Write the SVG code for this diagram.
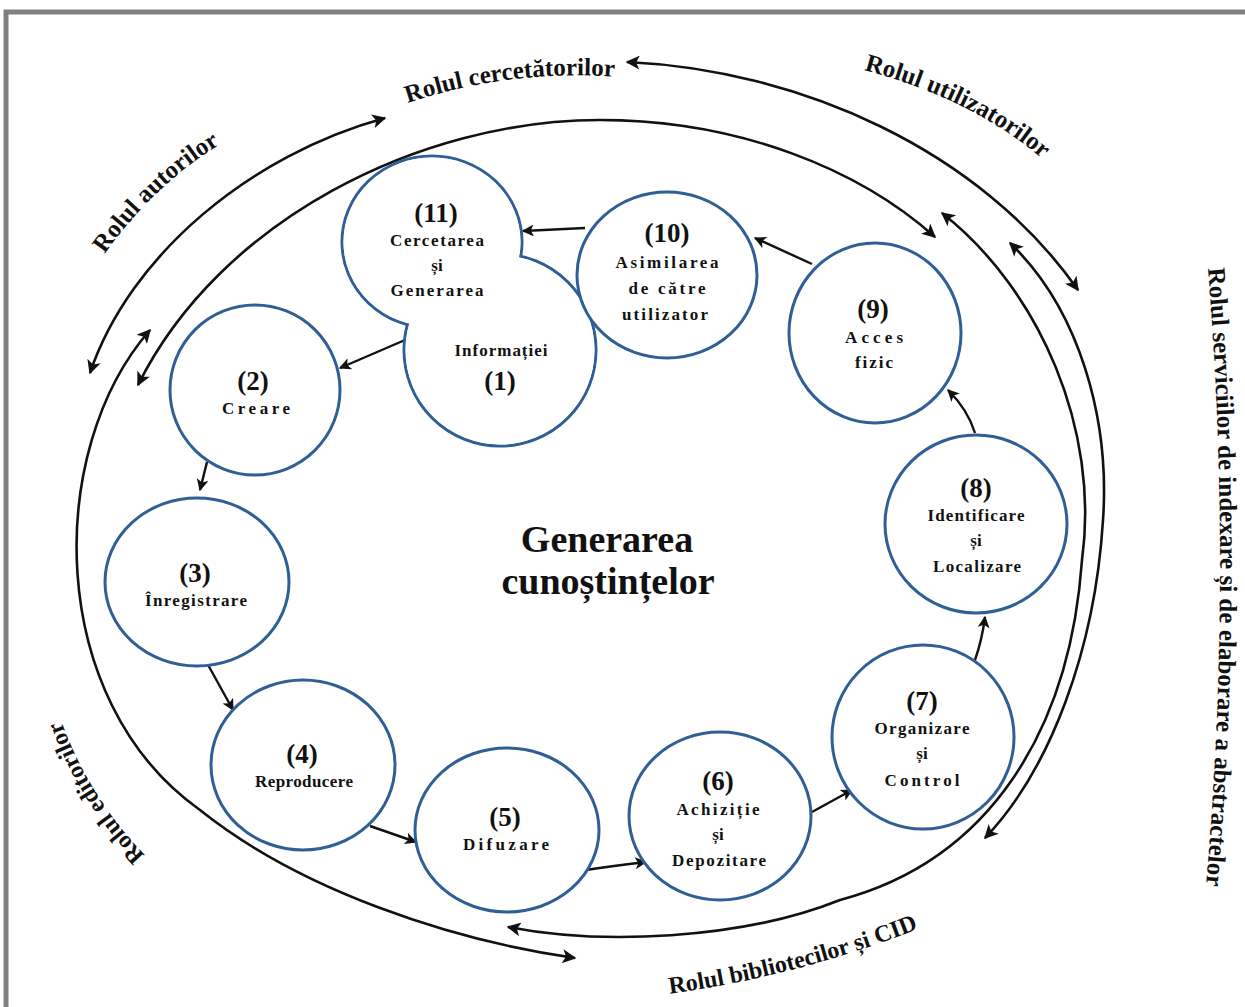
<svg xmlns="http://www.w3.org/2000/svg" width="1245" height="1007" viewBox="0 0 1245 1007">
<defs>
<style>
.node{fill:#fff;stroke:#2f5f95;stroke-width:3}
.mask{fill:#fff;stroke:none}
.num{font-family:'Liberation Serif','Times New Roman',serif;font-weight:bold;font-size:27px;text-anchor:middle;fill:#111}
.lbl{font-family:'Liberation Serif','Times New Roman',serif;font-weight:bold;font-size:17px;text-anchor:middle;fill:#111}
.role{font-family:'Liberation Serif','Times New Roman',serif;font-weight:bold;font-size:24px;fill:#111}
.center{font-family:'Liberation Serif','Times New Roman',serif;font-weight:bold;font-size:38px;text-anchor:middle;fill:#111}
.arc{fill:none;stroke:#111;stroke-width:2.6}
.con{fill:none;stroke:#111;stroke-width:2.4}
.guide{fill:none;stroke:none}
</style>
<marker id="ah" viewBox="0 0 10 10" refX="9" refY="5" markerWidth="16" markerHeight="14" markerUnits="userSpaceOnUse" orient="auto-start-reverse">
<path d="M0,0 L10,5 L0,10 L2.5,5 z" fill="#111"/>
</marker>
<marker id="ahs" viewBox="0 0 10 10" refX="9" refY="5" markerWidth="14" markerHeight="12" markerUnits="userSpaceOnUse" orient="auto">
<path d="M0,0 L10,5 L0,10 L2.5,5 z" fill="#111"/>
</marker>
<path id="p-aut" class="guide" d="M98,264 Q 150,185 230,138"/>
<path id="p-cer" class="guide" d="M393,108 Q 510,66 630,78"/>
<path id="p-uti" class="guide" d="M856,68 Q 975,98 1048,164"/>
<path id="p-edi" class="guide" d="M152,862 Q 88,800 58,712"/>
<path id="p-bib" class="guide" d="M652,996 Q 800,978 935,922"/>
<path id="p-ser" class="guide" d="M1206,246 Q 1235,575 1204,908"/>
</defs>
<rect x="0" y="0" width="1245" height="1007" fill="#fff"/>
<rect x="6" y="12" width="1300" height="1100" fill="none" stroke="#808080" stroke-width="5"/>

<g id="connectors">
<path class="arc" d="M90,373 C 130,255 250,155 385,118" marker-start="url(#ah)" marker-end="url(#ah)"/>
<path class="arc" d="M627,62 C 800,70 980,150 1078,290" marker-start="url(#ah)" marker-end="url(#ah)"/>
<path class="arc" d="M138,385 C 220,220 420,120 600,120 C 740,120 860,170 935,237" marker-start="url(#ah)" marker-end="url(#ah)"/>
<path class="arc" d="M150,330 C 45,450 45,700 200,810 C 300,890 450,940 575,958" marker-start="url(#ah)" marker-end="url(#ah)"/>
<path class="arc" d="M942,213 C 1040,290 1100,430 1082,560 C 1070,730 990,860 840,900 C 740,940 600,945 508,927" marker-start="url(#ah)" marker-end="url(#ah)"/>
<path class="arc" d="M1010,243 C 1080,310 1110,420 1103,520 C 1095,650 1050,770 985,838" marker-start="url(#ah)" marker-end="url(#ah)"/>
<path class="con" d="M585,228 L523,231" marker-end="url(#ahs)"/>
<path class="con" d="M405,340 L340,368" marker-end="url(#ahs)"/>
<path class="con" d="M207,462 L200,490" marker-end="url(#ahs)"/>
<path class="con" d="M207,663 L233,710" marker-end="url(#ahs)"/>
<path class="con" d="M370,826 L416,842" marker-end="url(#ahs)"/>
<path class="con" d="M586,870 Q 612,866 646,862" marker-end="url(#ahs)"/>
<path class="con" d="M812,812 L852,790" marker-end="url(#ahs)"/>
<path class="con" d="M975,660 Q 982,640 985,617" marker-end="url(#ahs)"/>
<path class="con" d="M975,433 Q 968,410 948,390" marker-end="url(#ahs)"/>
<path class="con" d="M812,264 L755,238" marker-end="url(#ahs)"/>
</g>

<g id="node-11-1">
<ellipse class="node" cx="432" cy="242" rx="90" ry="86"/>
<ellipse class="node" cx="500" cy="350" rx="96" ry="96"/>
<ellipse class="mask" cx="432" cy="242" rx="88.5" ry="84.5"/>
<ellipse class="mask" cx="500" cy="350" rx="94.5" ry="94.5"/>
<text class="num" x="436" y="222">(11)</text>
<text class="lbl" x="437" y="246" textLength="94">Cercetarea</text>
<text class="lbl" x="437" y="271">și</text>
<text class="lbl" x="437" y="296" textLength="93">Generarea</text>
<text class="lbl" x="501" y="356" textLength="93">Informației</text>
<text class="num" x="500" y="390">(1)</text>
</g>
<g id="node-10">
<ellipse class="node" cx="667" cy="275" rx="90" ry="83"/>
<text class="num" x="667" y="242">(10)</text>
<text class="lbl" x="667" y="268" textLength="103">Asimilarea</text>
<text class="lbl" x="667" y="294" textLength="77">de către</text>
<text class="lbl" x="665" y="320" textLength="86">utilizator</text>
</g>
<g id="node-9">
<ellipse class="node" cx="875" cy="333" rx="86" ry="90"/>
<text class="num" x="873" y="318">(9)</text>
<text class="lbl" x="874" y="343" textLength="58">Acces</text>
<text class="lbl" x="874" y="368" textLength="38">fizic</text>
</g>
<g id="node-2">
<ellipse class="node" cx="255" cy="390" rx="85" ry="85"/>
<text class="num" x="253" y="390">(2)</text>
<text class="lbl" x="256" y="414" textLength="68">Creare</text>
</g>
<g id="node-3">
<ellipse class="node" cx="197" cy="582" rx="92" ry="84"/>
<text class="num" x="195" y="582">(3)</text>
<text class="lbl" x="196" y="606" textLength="102">Înregistrare</text>
</g>
<g id="node-4">
<ellipse class="node" cx="303" cy="765" rx="92" ry="85"/>
<text class="num" x="302" y="763">(4)</text>
<text class="lbl" x="304" y="787" textLength="98">Reproducere</text>
</g>
<g id="node-5">
<ellipse class="node" cx="507" cy="830" rx="92" ry="82"/>
<text class="num" x="505" y="826">(5)</text>
<text class="lbl" x="506" y="850" textLength="86">Difuzare</text>
</g>
<g id="node-6">
<ellipse class="node" cx="720" cy="816" rx="91" ry="84"/>
<text class="num" x="718" y="790">(6)</text>
<text class="lbl" x="718" y="815" textLength="83">Achiziție</text>
<text class="lbl" x="718" y="840">și</text>
<text class="lbl" x="719" y="866" textLength="94">Depozitare</text>
</g>
<g id="node-7">
<ellipse class="node" cx="923" cy="737" rx="91" ry="92"/>
<text class="num" x="922" y="710">(7)</text>
<text class="lbl" x="922" y="734" textLength="95">Organizare</text>
<text class="lbl" x="922" y="759">și</text>
<text class="lbl" x="922" y="786" textLength="75">Control</text>
</g>
<g id="node-8">
<ellipse class="node" cx="976" cy="524" rx="91" ry="89"/>
<text class="num" x="976" y="497">(8)</text>
<text class="lbl" x="976" y="521" textLength="97">Identificare</text>
<text class="lbl" x="976" y="546">și</text>
<text class="lbl" x="977" y="572" textLength="88">Localizare</text>
</g>

<g id="center">
<text class="center" x="607" y="552">Generarea</text>
<text class="center" x="608" y="594">cunoștințelor</text>
</g>

<g id="roles">
<text class="role" style="font-size:25px"><textPath href="#p-aut" startOffset="50%" text-anchor="middle">Rolul autorilor</textPath></text>
<text class="role" style="font-size:25px"><textPath href="#p-cer" startOffset="50%" text-anchor="middle">Rolul cercetătorilor</textPath></text>
<text class="role" style="font-size:25px"><textPath href="#p-uti" startOffset="50%" text-anchor="middle">Rolul utilizatorilor</textPath></text>
<text class="role"><textPath href="#p-edi" startOffset="50%" text-anchor="middle">Rolul editorilor</textPath></text>
<text class="role"><textPath href="#p-bib" startOffset="50%" text-anchor="middle">Rolul bibliotecilor și CID</textPath></text>
<text class="role" style="font-size:25px"><textPath href="#p-ser" startOffset="50%" text-anchor="middle">Rolul serviciilor de indexare și de elaborare a abstractelor</textPath></text>
</g>
</svg>
